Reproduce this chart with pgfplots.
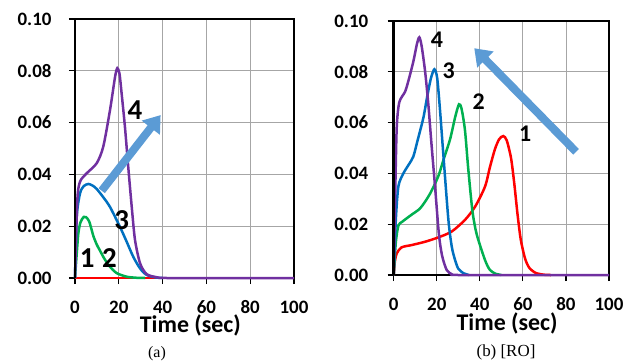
\documentclass[border=0pt]{standalone}
\usepackage{pgfplots}
\pgfplotsset{compat=1.18}
\usepackage{fontspec}
\setmainfont{Liberation Serif}
\newfontfamily\carlito{Carlito}
\usetikzlibrary{arrows.meta}
\definecolor{cred}{RGB}{255,0,0}
\definecolor{cgreen}{RGB}{0,176,80}
\definecolor{cblue}{RGB}{0,112,192}
\definecolor{cpurple}{RGB}{112,48,160}
\definecolor{carrow}{RGB}{91,155,213}
\pgfplotsset{panel/.style={
  scale only axis, xmin=0, xmax=100, ymin=0, ymax=0.1,
  xtick={0,20,40,60,80,100}, ytick={0,0.02,0.04,0.06,0.08,0.1},
  scaled y ticks=false,
  grid=major, major grid style={color=black!35, line width=0.8bp},
  axis line style={black, line width=1.2bp},
  tick align=outside, xtick pos=left, ytick pos=left,
  major tick length=6bp, tick style={black, line width=1.2bp},
  /pgf/number format/assume math mode=true,
  yticklabel style={/pgf/number format/fixed, /pgf/number format/fixed zerofill, /pgf/number format/precision=2, xshift=-14bp},
  tick label style={font=\carlito\bfseries\fontsize{19}{21}\selectfont},
  xticklabel style={anchor=base, inner sep=0pt, yshift=-29.5bp},
  xlabel={Time (sec)},
  every axis plot/.append style={line width=2.5bp, smooth, tension=0.45, mark=none},
  clip=false,
}}
\begin{document}
\begin{tikzpicture}[x=1bp,y=1bp]
\path[use as bounding box] (0,0) rectangle (636,363);
% ---------------- panel (a)
\begin{axis}[panel, at={(75bp,85bp)}, anchor=south west, width=219bp, height=259bp,
  xlabel style={font=\carlito\bfseries\fontsize{24}{26}\selectfont, inner sep=0pt, at={(axis description cs:0.527,0)}, anchor=base, yshift=-54bp}]
\addplot[cred] coordinates {(0,0) (50,0) (100,0)};
\addplot[cgreen] coordinates {(0,0) (0.5,0.006) (1.5,0.017) (2.5,0.0215) (4,0.0236) (5,0.0235) (6.5,0.0218) (8.4,0.0162) (10,0.0128) (11.4,0.0106) (12.9,0.0082) (14.5,0.006) (16,0.0043) (19,0.0019) (23.6,0.0005) (28,0.0001) (32,0)};
\addplot[cblue] coordinates {(0,0) (0.8,0.0237) (2.3,0.0327) (4,0.0355) (6.1,0.0363) (8,0.0357) (9.9,0.0344) (12.9,0.0312) (16,0.0274) (20.5,0.0198) (23.6,0.014) (26.6,0.0082) (29.7,0.0037) (32.7,0.0012) (37,0.0002) (40,0)};
\addplot[cpurple] coordinates {(0,0) (1.06,0.030) (2.3,0.0372) (5.3,0.0404) (9.9,0.0443) (12.9,0.0507) (16,0.0649) (18.3,0.0777) (19.3,0.081) (20.3,0.079) (21.2,0.072) (22.8,0.0584) (24.3,0.043) (25.9,0.0275) (27.4,0.0147) (29.7,0.0057) (32.7,0.0015) (37.3,0.0003) (42,0) (70,0) (100,0)};
\draw[line width=2.6bp] (rel axis cs:0,1) -- (rel axis cs:0,0);
\draw[carrow, line width=8bp, -{Triangle[width=22bp,length=16bp]}] (axis cs:12.2,0.0337) -- (axis cs:39.1,0.0629);
\node[font=\carlito\bfseries\fontsize{29}{31}\selectfont] at (axis cs:27.4,0.0649) {4};
\node[font=\carlito\bfseries\fontsize{29}{31}\selectfont] at (axis cs:21.3,0.0224) {3};
\node[font=\carlito\bfseries\fontsize{29}{31}\selectfont] at (axis cs:15.7,0.0076) {2};
\node[font=\carlito\bfseries\fontsize{29}{31}\selectfont] at (axis cs:5.6,0.0076) {1};
\end{axis}
% ---------------- panel (b)
\begin{axis}[panel, at={(393.7bp,88bp)}, anchor=south west, width=215.3bp, height=254bp,
  yticklabel style={xshift=-2bp},
  xlabel style={font=\carlito\bfseries\fontsize{24}{26}\selectfont, inner sep=0pt, at={(axis description cs:0.527,0)}, anchor=base, yshift=-55.5bp}]
\addplot[cred] coordinates {(0,0) (0.5,0.005) (1.4,0.0085) (3.7,0.0109) (8.4,0.0118) (14.6,0.0131) (20.7,0.0148) (26.9,0.0171) (33.1,0.0217) (37.8,0.0269) (42.4,0.0348) (44.7,0.0425) (47,0.0495) (49,0.0535) (50.9,0.0547) (52.5,0.053) (54.5,0.046) (56,0.036) (57.5,0.024) (59,0.014) (61,0.0065) (63,0.0028) (66,0.0008) (70,0.0001) (73,0)};
\addplot[cgreen] coordinates {(0,0) (1,0.013) (2.2,0.0195) (4,0.021) (8.4,0.0238) (12,0.026) (14.6,0.0289) (17,0.0322) (19.2,0.036) (21,0.0395) (23.1,0.0453) (26.2,0.0535) (28.5,0.062) (30.3,0.0672) (31.5,0.0655) (33.1,0.057) (34.6,0.042) (36.5,0.0256) (38,0.018) (39.3,0.0138) (42.4,0.0059) (44.5,0.0022) (47,0.0006) (50,0)};
\addplot[cblue] coordinates {(0,0) (1,0.022) (2.2,0.035) (4.5,0.040) (7,0.0435) (9.1,0.0466) (11.1,0.053) (13.8,0.062) (15.5,0.070) (17.3,0.0775) (18.9,0.081) (20.2,0.0775) (21.5,0.065) (23,0.048) (25.4,0.0217) (27,0.011) (28.5,0.0059) (30,0.0025) (32.4,0.0007) (35,0)};
\addplot[cpurple] coordinates {(0,0) (0.7,0.032) (1.4,0.058) (2.6,0.068) (5.3,0.0722) (7,0.077) (9.1,0.084) (10.8,0.091) (11.9,0.0936) (13,0.090) (14.6,0.080) (16.1,0.067) (17.5,0.052) (19.2,0.0348) (21,0.016) (22.5,0.0075) (24.6,0.002) (27,0.0003) (30,0) (65,0) (100,0)};
\draw[line width=2.6bp] (rel axis cs:0,1) -- (rel axis cs:0,0);
\draw[carrow, line width=8bp, -{Triangle[width=22bp,length=16bp]}] (axis cs:84.7,0.0485) -- (axis cs:37.4,0.0893);
\node[font=\carlito\bfseries\fontsize{24}{26}\selectfont] at (axis cs:20.1,0.0928) {4};
\node[font=\carlito\bfseries\fontsize{24}{26}\selectfont] at (axis cs:25.5,0.0804) {3};
\node[font=\carlito\bfseries\fontsize{24}{26}\selectfont] at (axis cs:39.5,0.0682) {2};
\node[font=\carlito\bfseries\fontsize{24}{26}\selectfont] at (axis cs:61.1,0.0558) {1};
\end{axis}
\node[font=\fontsize{16}{18}\selectfont] at (157,9.5) {(a)};
\node[font=\fontsize{17}{19}\selectfont] at (506,11) {(b) [RO]};
\end{tikzpicture}
\end{document}
